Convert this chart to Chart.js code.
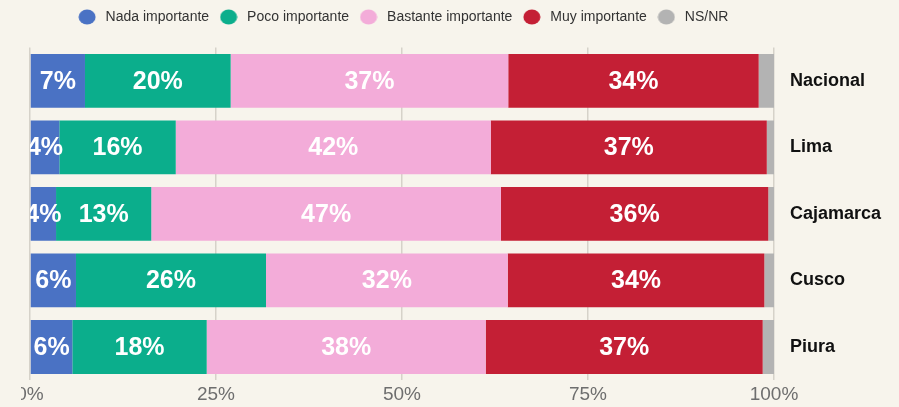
<!DOCTYPE html>
<html>
<head>
<meta charset="utf-8">
<script src="https://cdn.jsdelivr.net/npm/chart.js@4.4.1/dist/chart.umd.min.js"></script>
<style>
  html, body { margin:0; padding:0; background:#f7f4ec; }
  #wrap { position:absolute; left:0; top:0; width:899px; height:407px; clip-path: inset(0 0 0 21px); }
  canvas { display:block; }
</style>
</head>
<body>
<div id="wrap"><canvas id="c" width="899" height="407"></canvas></div>
<script>
const categories = ['Nacional', 'Lima', 'Cajamarca', 'Cusco', 'Piura'];
const seriesNames = ['Nada importante', 'Poco importante', 'Bastante importante', 'Muy importante', 'NS/NR'];
const nada      = [7.39, 3.94, 3.5, 6.18, 5.69];
const poco      = [19.58, 15.65, 12.8, 25.54, 18.06];
const bastante  = [37.31, 42.34, 47.0, 32.49, 37.5];
const muy       = [33.66, 37.1, 35.93, 34.49, 37.23];
const nsnr      = [2.06, 0.98, 0.77, 1.3, 1.52];
const xTicks    = [0, 25, 50, 75, 100];
const colors    = ['#4a72c4', '#0bae8c', '#f3acd9', '#c41f35', '#b3b3b3'];

const FONT = "'Liberation Sans', Arial, sans-serif";

// legend markers (ellipse images)
const markers = colors.map(c => {
  const cv = document.createElement('canvas');
  cv.width = 18; cv.height = 16;
  const g = cv.getContext('2d');
  g.fillStyle = c;
  g.beginPath();
  g.ellipse(9, 8, 8.5, 7.5, 0, 0, Math.PI * 2);
  g.fill();
  return cv;
});

const labelPlugin = {
  id: 'segLabels',
  beforeLayout(chart) {
    const lg = chart.legend;
    if (lg && !lg._patched) {
      const orig = lg.fit;
      lg.fit = function () { orig.call(this); this.height = 45.6; };
      lg._patched = true;
    }
  },
  afterDatasetsDraw(chart) {
    const ctx = chart.ctx;
    const area = chart.chartArea;
    ctx.save();
    ctx.beginPath();
    ctx.rect(area.left, area.top, area.right - area.left, area.bottom - area.top);
    ctx.clip();
    ctx.fillStyle = '#ffffff';
    ctx.font = "bold 25px " + FONT;
    ctx.textAlign = 'center';
    ctx.textBaseline = 'middle';
    chart.data.datasets.forEach((ds, di) => {
      if (di > 3) return;
      const meta = chart.getDatasetMeta(di);
      meta.data.forEach((bar, i) => {
        const v = ds.data[i];
        const p = bar.getProps(['x', 'y', 'base'], true);
        const cx = (p.x + p.base) / 2;
        ctx.fillText(Math.round(v) + '%', cx, p.y + 1);
      });
    });
    ctx.restore();
  }
};

new Chart(document.getElementById('c'), {
  type: 'bar',
  data: {
    labels: categories,
    datasets: [nada, poco, bastante, muy, nsnr].map((d, i) => ({
      label: seriesNames[i],
      data: d,
      backgroundColor: colors[i],
      borderWidth: 0,
      barPercentage: 0.81,
      categoryPercentage: 1
    }))
  },
  options: {
    indexAxis: 'y',
    responsive: false,
    animation: false,
    layout: { padding: { left: 30, right: 0, top: 2, bottom: 0 } },
    plugins: {
      legend: {
        position: 'top',
        fullSize: false,
        labels: {
          usePointStyle: true,
          pointStyleWidth: 23,
          boxHeight: 14,
          padding: 8,
          color: '#333333',
          font: { family: FONT, size: 14 },
          generateLabels(chart) {
            const items = Chart.defaults.plugins.legend.labels.generateLabels(chart);
            return items.map(it => Object.assign(it, { pointStyle: markers[it.datasetIndex] }));
          }
        }
      },
      tooltip: { enabled: false }
    },
    scales: {
      x: {
        stacked: true,
        min: 0,
        max: 100,
        afterBuildTicks(axis) { axis.ticks = xTicks.map(v => ({ value: v })); },
        ticks: {
          callback: v => v + '%',
          color: '#6e6e6e',
          font: { family: FONT, size: 19 },
          padding: 3,
          maxRotation: 0
        },
        grid: { color: '#d6d2c9', lineWidth: 1.5, drawTicks: false },
        border: { display: false },
        afterFit(axis) { axis.height = 25.6; }
      },
      y: {
        stacked: true,
        position: 'right',
        grid: { display: false, drawTicks: false },
        border: { display: false },
        ticks: {
          color: '#111111',
          font: { family: FONT, size: 18, weight: 'bold' },
          padding: 16
        },
        afterFit(axis) { axis.width = 125; }
      }
    }
  },
  plugins: [labelPlugin]
});
</script>
</body>
</html>
